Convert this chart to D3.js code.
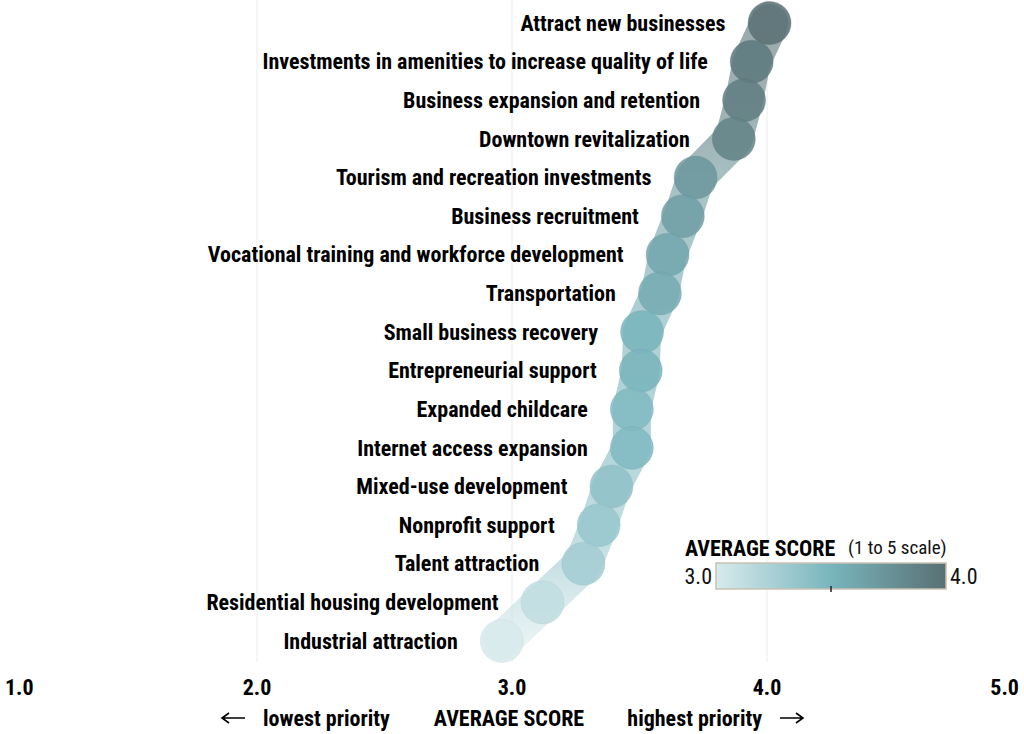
<!DOCTYPE html>
<html>
<head>
<meta charset="utf-8">
<script src="https://cdn.jsdelivr.net/npm/d3@7"></script>
<style>
body { margin: 0; background: #fff; }
text { font-family: "Roboto Condensed", "Liberation Sans Narrow", Roboto, sans-serif; }
</style>
</head>
<body>
<script>
let categories = [
	'Attract new businesses',
	'Investments in amenities to increase quality of life',
	'Business expansion and retention',
	'Downtown revitalization',
	'Tourism and recreation investments',
	'Business recruitment',
	'Vocational training and workforce development',
	'Transportation',
	'Small business recovery',
	'Entrepreneurial support',
	'Expanded childcare',
	'Internet access expansion',
	'Mixed-use development',
	'Nonprofit support',
	'Talent attraction',
	'Residential housing development',
	'Industrial attraction',
]
let scores = [4.01, 3.94, 3.91, 3.87, 3.72, 3.67, 3.61, 3.58, 3.51, 3.505, 3.47, 3.47, 3.39, 3.34, 3.28, 3.12, 2.96]
let xTicks = [1, 2, 3, 4, 5]
let legendTicks = [3, 4]

let width = 1024, height = 734
let data = categories.map((c, i) => ({ name: c, score: scores[i] }))

let x = d3.scaleLinear().domain([1, 5]).range([2, 1022])
let y = d3.scalePoint().domain(categories).range([23, 641])
let color = d3.scaleLinear()
	.domain([3, 3.5, 4])
	.range(['#d7eaec', '#79b5bd', '#587073'])
	.clamp(true)

let svg = d3.select('body').append('svg')
	.attr('width', width)
	.attr('height', height)

let defs = svg.append('defs')

// grid
svg.append('g')
	.selectAll('line')
	.data([2, 3, 4])
	.join('line')
	.attr('x1', d => x(d)).attr('x2', d => x(d))
	.attr('y1', 0).attr('y2', 662)
	.attr('stroke', '#ececec')
	.attr('stroke-width', 1)

// band gradient along y
let bandGrad = defs.append('linearGradient')
	.attr('id', 'bandGrad')
	.attr('gradientUnits', 'userSpaceOnUse')
	.attr('x1', 0).attr('x2', 0)
	.attr('y1', y(categories[0])).attr('y2', y(categories[categories.length - 1]))
bandGrad.selectAll('stop')
	.data(data)
	.join('stop')
	.attr('offset', (d, i) => i / (data.length - 1))
	.attr('stop-color', d => color(d.score))

let line = d3.line()
	.x(d => x(d.score))
	.y(d => y(d.name))

svg.append('path')
	.datum(data)
	.attr('d', line)
	.attr('fill', 'none')
	.attr('stroke', 'url(#bandGrad)')
	.attr('stroke-width', 38)
	.attr('stroke-linejoin', 'round')
	.attr('stroke-linecap', 'round')
	.attr('opacity', 0.6)

// circles
svg.append('g')
	.selectAll('circle')
	.data(data)
	.join('circle')
	.attr('cx', d => x(d.score))
	.attr('cy', d => y(d.name))
	.attr('r', 21.5)
	.attr('fill', d => color(d.score))
	.attr('fill-opacity', 0.85)
	.attr('stroke', d => d3.color(color(d.score)).darker(0.3))
	.attr('stroke-opacity', 0.3)
	.attr('stroke-width', 1)

// labels
svg.append('g')
	.selectAll('text')
	.data(data)
	.join('text')
	.attr('x', d => x(d.score) - 44)
	.attr('y', d => y(d.name))
	.attr('dy', '0.35em')
	.attr('text-anchor', 'end')
	.attr('font-size', 22)
	.attr('font-weight', 'bold')
	.attr('fill', '#000')
	.text(d => d.name)

// x axis tick labels
svg.append('g')
	.selectAll('text')
	.data(xTicks)
	.join('text')
	.attr('x', (d, i) => i === 0 ? x(d) + 3 : i === xTicks.length - 1 ? x(d) - 3 : x(d))
	.attr('y', 695)
	.attr('text-anchor', (d, i) => i === 0 ? 'start' : i === xTicks.length - 1 ? 'end' : 'middle')
	.attr('font-size', 22)
	.attr('font-weight', 'bold')
	.attr('fill', '#000')
	.text(d => d3.format('.1f')(d))

// axis title
let bottom = svg.append('g').attr('font-size', 22).attr('font-weight', 'bold').attr('fill', '#000')
bottom.append('text').attr('x', x(3) - 3).attr('y', 726).attr('text-anchor', 'middle').text('AVERAGE SCORE')
bottom.append('text').attr('x', 263).attr('y', 726).attr('text-anchor', 'start').text('lowest priority')
bottom.append('text').attr('x', 762).attr('y', 726).attr('text-anchor', 'end').text('highest priority')

// arrows
let arrows = svg.append('g').attr('stroke', '#000').attr('stroke-width', 1.6).attr('fill', 'none')
arrows.append('path').attr('d', 'M222,718 H245 M229,713 L222,718 L229,723')
arrows.append('path').attr('d', 'M780,718 H803 M796,713 L803,718 L796,723')

// legend
let lx = d3.scaleLinear().domain(legendTicks).range([716, 946])
let legGrad = defs.append('linearGradient').attr('id', 'legGrad')
legGrad.selectAll('stop')
	.data(color.domain())
	.join('stop')
	.attr('offset', d => (d - 3))
	.attr('stop-color', d => color(d))

let legend = svg.append('g')
legend.append('text')
	.attr('x', 685).attr('y', 556)
	.attr('font-size', 22).attr('font-weight', 'bold').attr('fill', '#000')
	.text('AVERAGE SCORE')
legend.append('text')
	.attr('x', 848).attr('y', 554)
	.attr('font-size', 19).attr('fill', '#111')
	.text('(1 to 5 scale)')
legend.append('rect')
	.attr('x', lx(3)).attr('y', 563)
	.attr('width', lx(4) - lx(3)).attr('height', 26)
	.attr('fill', 'url(#legGrad)')
	.attr('stroke', '#c9c1b3')
	.attr('stroke-width', 1.5)
legend.append('line')
	.attr('x1', lx(3.5)).attr('x2', lx(3.5))
	.attr('y1', 586).attr('y2', 592)
	.attr('stroke', '#222').attr('stroke-width', 1.5)
legend.selectAll('.lt')
	.data(legendTicks)
	.join('text')
	.attr('class', 'lt')
	.attr('x', (d, i) => i === 0 ? lx(d) - 4 : lx(d) + 4)
	.attr('y', 584)
	.attr('text-anchor', (d, i) => i === 0 ? 'end' : 'start')
	.attr('font-size', 22).attr('fill', '#111')
	.text(d => d3.format('.1f')(d))
</script>
</body>
</html>
